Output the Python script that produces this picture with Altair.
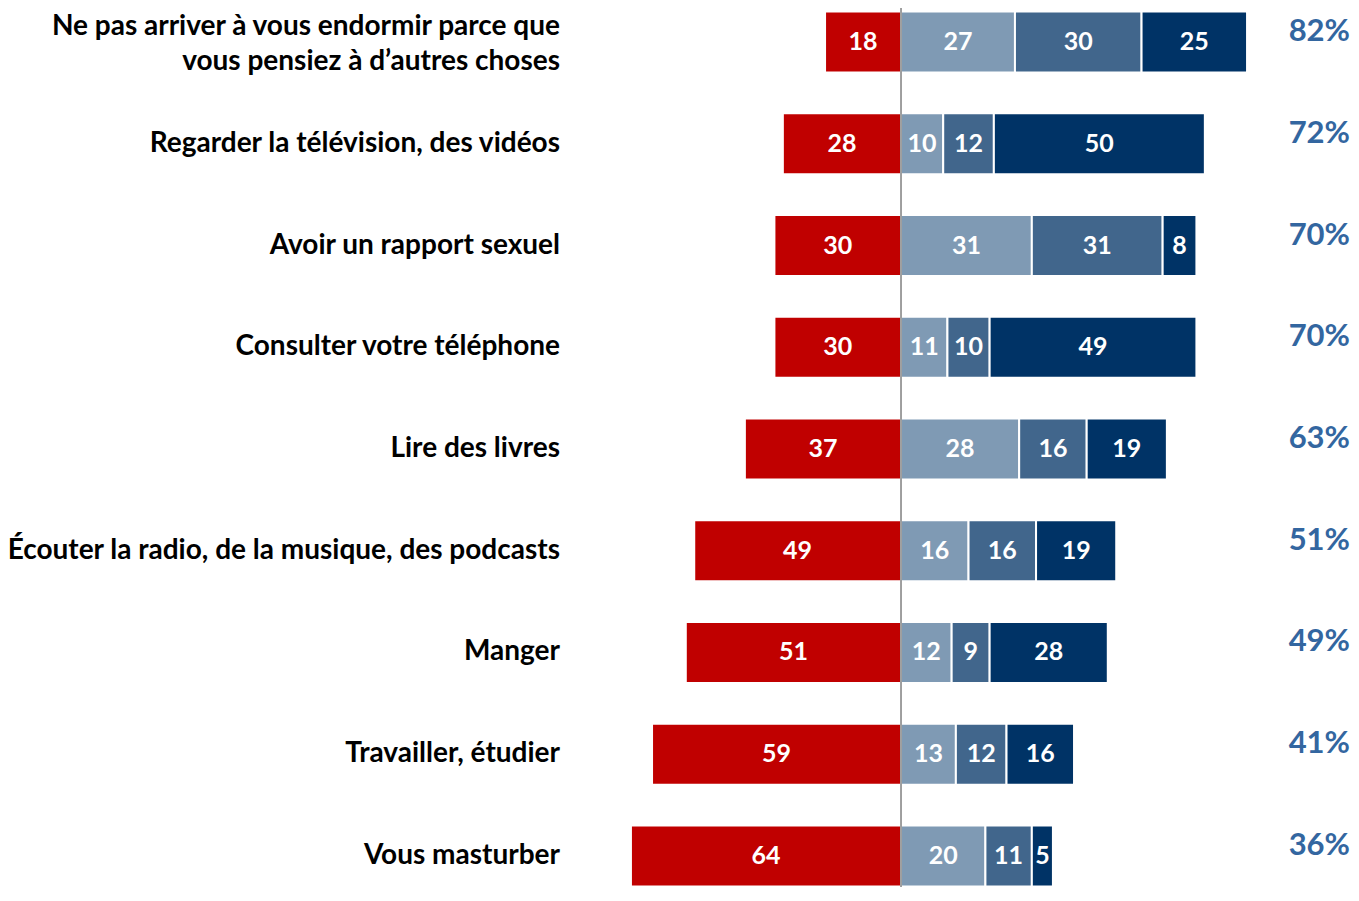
import altair as alt
import pandas as pd

categories = [
    "Ne pas arriver à vous endormir parce que vous pensiez à d’autres choses",
    "Regarder la télévision, des vidéos",
    "Avoir un rapport sexuel",
    "Consulter votre téléphone",
    "Lire des livres",
    "Écouter la radio, de la musique, des podcasts",
    "Manger",
    "Travailler, étudier",
    "Vous masturber",
]
first_label_lines = ["Ne pas arriver à vous endormir parce que", "vous pensiez à d’autres choses"]
red_vals = [18, 28, 30, 30, 37, 49, 51, 59, 64]
blue1_vals = [27, 10, 31, 11, 28, 16, 12, 13, 20]
blue2_vals = [30, 12, 31, 10, 16, 16, 9, 12, 11]
blue3_vals = [25, 50, 8, 49, 19, 19, 28, 16, 5]
totals = [82, 72, 70, 70, 63, 51, 49, 41, 36]

series_names = ["rouge", "bleu1", "bleu2", "bleu3"]
series_colors = ["#C00000", "#7F9AB4", "#41668C", "#003366"]

rows = []
for i, c in enumerate(categories):
    rows.append({"cat": c, "serie": "rouge", "x": -red_vals[i], "x2": 0, "val": red_vals[i]})
    start = 0
    for name, vals in zip(["bleu1", "bleu2", "bleu3"], [blue1_vals, blue2_vals, blue3_vals]):
        v = vals[i]
        rows.append({"cat": c, "serie": name, "x": start, "x2": start + v, "val": v})
        start += v
df = pd.DataFrame(rows)
df["mid"] = (df["x"] + df["x2"]) / 2
tot_df = pd.DataFrame({"cat": categories, "total": [f"{t}%" for t in totals]})
single_df = pd.DataFrame({"cat": categories[1:], "txt": categories[1:]})
line1_df = pd.DataFrame({"cat": [categories[0]], "txt": [first_label_lines[0]]})
line2_df = pd.DataFrame({"cat": [categories[0]], "txt": [first_label_lines[1]]})

W = 772
H = 876
xscale = alt.Scale(domain=[-78.44, 104.5], nice=False, zero=False)
yscale = alt.Scale(domain=categories, paddingInner=0.40, paddingOuter=0.005)
Y = alt.Y("cat:N", scale=yscale, sort=categories, axis=None)

bars = alt.Chart(df).mark_bar(stroke="white", strokeWidth=2).encode(
    x=alt.X("x:Q", scale=xscale, axis=None),
    x2="x2:Q",
    y=Y,
    color=alt.Color("serie:N", scale=alt.Scale(domain=series_names, range=series_colors), legend=None),
)

values = alt.Chart(df).mark_text(color="white", font="Lato", fontWeight="bold", fontSize=25).encode(
    x=alt.X("mid:Q", scale=xscale),
    y=Y,
    text="val:Q",
)

rule = alt.Chart(pd.DataFrame({"z": [0]})).mark_rule(color="#808080", strokeWidth=1.5).encode(
    x=alt.X("z:Q", scale=xscale),
    y=alt.value(-3),
    y2=alt.value(H + 3),
)

lab_kw = dict(color="black", font="Lato", fontWeight="bold", fontSize=28, align="right")
lab_single = alt.Chart(single_df).mark_text(**lab_kw).encode(x=alt.value(-10), y=Y, text="txt:N")
lab_l1 = alt.Chart(line1_df).mark_text(dy=-15, **lab_kw).encode(x=alt.value(-10), y=Y, text="txt:N")
lab_l2 = alt.Chart(line2_df).mark_text(dy=20, **lab_kw).encode(x=alt.value(-10), y=Y, text="txt:N")

pct = alt.Chart(tot_df).mark_text(color="#3366A0", font="Lato", fontWeight="bold", fontSize=31,
                                  align="right", dy=-10).encode(
    x=alt.value(W + 8),
    y=Y,
    text="total:N",
)

chart = alt.layer(bars, rule, values, lab_single, lab_l1, lab_l2, pct).properties(
    width=W, height=H,
    autosize=alt.AutoSizeParams(type="none"),
    padding={"left": 562, "top": 3, "right": 9, "bottom": 0},
).configure_view(stroke=None)

chart.save("out.html", embed_options={"renderer": "svg", "actions": False})
